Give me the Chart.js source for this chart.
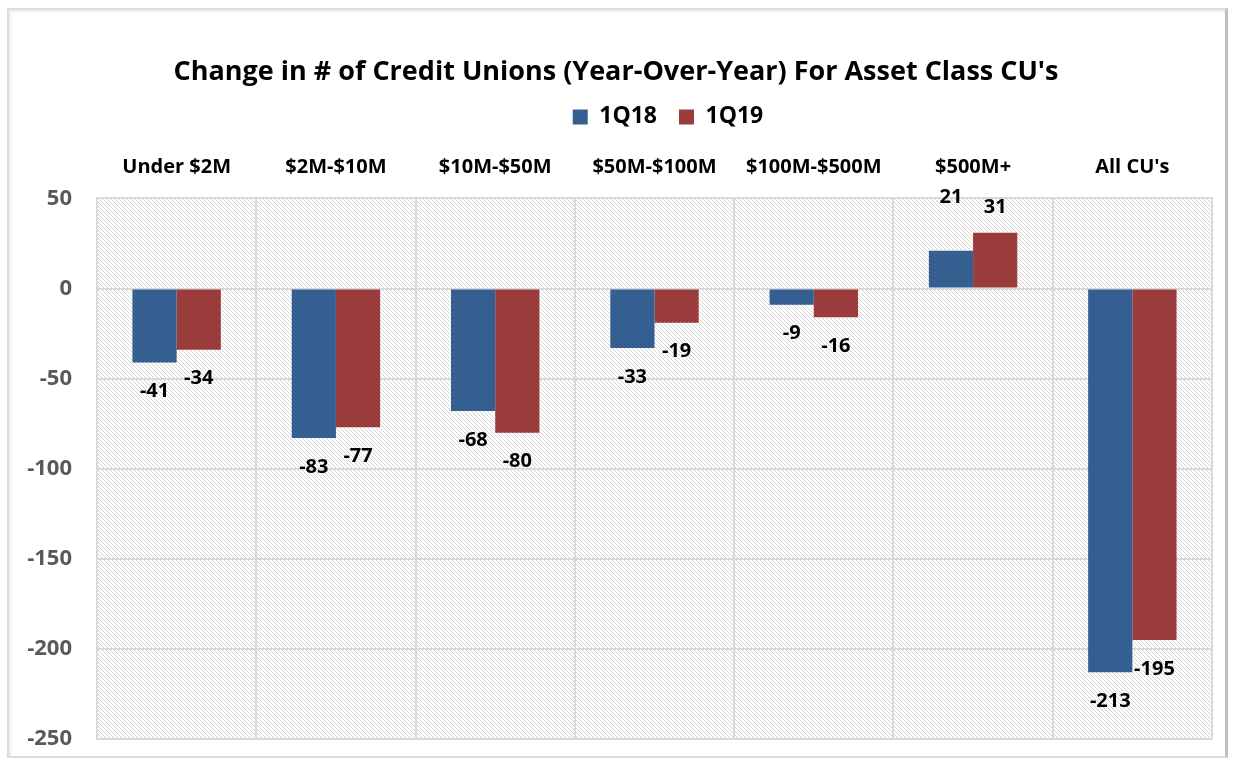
<!DOCTYPE html>
<html>
<head>
<meta charset="utf-8">
<script src="https://cdn.jsdelivr.net/npm/chart.js@4"></script>
<style>
  body { margin: 0; background: #fff; }
  .frame {
    position: absolute; left: 7px; top: 8px; width: 1216px; height: 746px;
    border: 2px solid #dcdcdc; border-right: 3px solid #bfbfbf;
    box-shadow: inset 2px 2px 3px #ececec;
  }
  #wrap { position: absolute; left: 0; top: 0; width: 1236px; height: 764px; }
</style>
</head>
<body>
<div class="frame"></div>
<div id="wrap"><canvas id="chart"></canvas></div>
<script>
const categories = ['Under $2M', '$2M-$10M', '$10M-$50M', '$50M-$100M', '$100M-$500M', '$500M+', "All CU's"];
const q118 = [-41, -83, -68, -33, -9, 21, -213];
const q119 = [-34, -77, -80, -19, -16, 31, -195];
const yTicks = [50, 0, -50, -100, -150, -200, -250];

const FONT = '"Open Sans", Lato, sans-serif';

// diagonal hatch for plot background
function makeHatch() {
    const c = document.createElement('canvas');
    c.width = 4; c.height = 4;
    const g = c.getContext('2d');
    g.fillStyle = '#ffffff';
    g.fillRect(0, 0, 4, 4);
    g.strokeStyle = '#d4d4d4';
    g.lineWidth = 1;
    g.beginPath();
    g.moveTo(-1, -1); g.lineTo(5, 5);
    g.moveTo(-1, 3); g.lineTo(1, 5);
    g.moveTo(3, -1); g.lineTo(5, 1);
    g.stroke();
    return g.createPattern(c, 'repeat');
}

const hatchBg = {
    id: 'hatchBg',
    beforeDraw(chart) {
        const a = chart.chartArea, ctx = chart.ctx;
        ctx.save();
        ctx.fillStyle = makeHatch();
        ctx.fillRect(a.left, a.top, a.right - a.left, a.bottom - a.top);
        ctx.restore();
    }
};

// legend sits a bit right of centre in the original
const legendShift = {
    id: 'legendShift',
    afterLayout(chart) {
        if (chart.legend) {
            chart.legend.left += 52;
            chart.legend.right += 52;
        }
    }
};

// small manual nudges, like the hand-placed labels in the original
const labelNudge = { '0-5': -28 };

const barLabels = {
    id: 'barLabels',
    afterDatasetsDraw(chart) {
        const ctx = chart.ctx;
        ctx.save();
        ctx.font = 'bold 20px ' + FONT;
        ctx.fillStyle = '#000';
        ctx.textAlign = 'center';
        ctx.textBaseline = 'middle';
        chart.data.datasets.forEach((ds, di) => {
            chart.getDatasetMeta(di).data.forEach((bar, i) => {
                const v = ds.data[i];
                let y = v < 0 ? bar.y + 29 : bar.y - 25;
                y += labelNudge[di + '-' + i] || 0;
                ctx.fillText(String(v), bar.x, y);
            });
        });
        ctx.restore();
    }
};

new Chart(document.getElementById('chart'), {
    type: 'bar',
    data: {
        labels: categories,
        datasets: [
            { label: '1Q18', data: q118, backgroundColor: '#355F91' },
            { label: '1Q19', data: q119, backgroundColor: '#9A3C3B' }
        ]
    },
    options: {
        responsive: true,
        maintainAspectRatio: false,
        animation: false,
        categoryPercentage: 0.555,
        barPercentage: 1,
        layout: { padding: { left: 20, right: 24, top: 46, bottom: 25 } },
        plugins: {
            title: {
                display: true,
                text: "Change in # of Credit Unions (Year-Over-Year) For Asset Class CU's",
                color: '#000',
                font: { family: FONT, size: 27, weight: 'bold' },
                padding: { top: 10, bottom: -5 }
            },
            legend: {
                display: true,
                labels: {
                    color: '#000',
                    font: { family: FONT, size: 23, weight: 'bold' },
                    boxWidth: 15, boxHeight: 15, padding: 22
                }
            },
            tooltip: { enabled: false }
        },
        scales: {
            x: {
                position: 'top',
                afterFit(scale) { scale.height -= 2; },
                grid: { color: '#d9d9d9', lineWidth: 2, drawTicks: false },
                border: { color: '#d9d9d9', width: 2 },
                ticks: {
                    color: '#000',
                    font: { family: FONT, size: 20, weight: 'bold' },
                    padding: 19,
                    maxRotation: 0
                }
            },
            y: {
                min: -250, max: 50,
                afterBuildTicks(scale) { scale.ticks = yTicks.map(v => ({ value: v })); },
                afterFit(scale) {
                    scale.width = 77;
                    scale.paddingBottom = 13;
                },
                grid: { color: '#d9d9d9', lineWidth: 2, drawTicks: false },
                border: { color: '#d9d9d9', width: 2 },
                ticks: {
                    color: '#595959',
                    font: { family: FONT, size: 22, weight: 'bold' },
                    padding: 25
                }
            }
        }
    },
    plugins: [hatchBg, legendShift, barLabels]
});
</script>
</body>
</html>
